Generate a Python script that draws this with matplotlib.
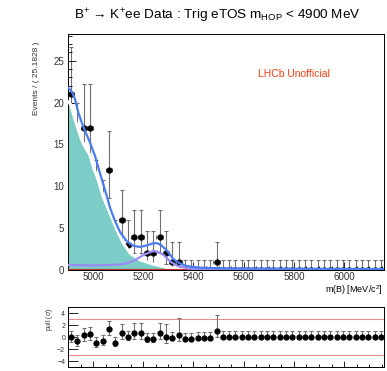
import numpy as np
import matplotlib.pyplot as plt
from matplotlib.ticker import MultipleLocator

plt.rcParams["font.family"] = ["Liberation Sans", "DejaVu Sans"]
plt.rcParams["mathtext.fontset"] = "custom"
plt.rcParams["mathtext.rm"] = "Liberation Sans"
plt.rcParams["mathtext.it"] = "Liberation Sans:italic"

# binning of the data histogram
m_lo = 4900.0
bin_w = 25.1828
n_bins = 50

# data counts per bin
counts = [21, 15, 17, 17, 9, 7, 12, 3, 6, 3,
          4, 4, 2, 2, 4, 2, 1, 1, 0, 0,
          0, 0, 0, 1, 0, 0, 0, 0, 0, 0,
          0, 0, 0, 0, 0, 0, 0, 0, 0, 0,
          0, 0, 0, 0, 0, 0, 0, 0, 0, 0]

# pull values read from the lower pad
pulls = [0.0, -0.7, 0.3, 0.5, -1.0, -0.6, 1.3, -1.0, 0.7, 0.0,
         0.65, 0.7, -0.3, -0.35, 0.65, 0.1, -0.15, 0.4, -0.3, -0.25,
         -0.15, -0.1, -0.1, 1.0, -0.05, -0.05, -0.05, -0.05, -0.05, -0.05,
         -0.05, -0.05, -0.05, -0.05, -0.05, -0.05, -0.05, -0.05, -0.05, -0.05,
         -0.05, -0.05, -0.05, -0.05, -0.05, -0.05, -0.05, -0.05, -0.05, -0.05]

# Poisson (Garwood) 68% intervals for the counts that occur
poisson_err = {0: (0.0, 1.148), 1: (0.827, 2.299), 2: (1.292, 2.638),
               3: (1.633, 2.918), 4: (1.914, 3.162), 6: (2.377, 3.583),
               7: (2.582, 3.770), 9: (2.957, 4.110), 12: (3.415, 4.559),
               15: (3.829, 4.958), 17: (4.082, 5.203), 21: (4.545, 5.655)}

# fit components
bkg_m = [4900, 4910, 4921, 4935, 4955, 4968, 4988, 5001, 5021, 5041,
         5068, 5095, 5121, 5148, 5188, 5241, 5295, 5348, 5400, 5450, 6160]
bkg_v = [20.1, 19.8, 18.7, 17.3, 15.5, 14.7, 13.7, 12.3, 10.7, 8.7,
         6.75, 4.8, 3.2, 2.0, 1.2, 0.7, 0.3, 0.08, 0.02, 0.0, 0.0]

sig_m = [4900, 5000, 5068, 5110, 5135, 5168, 5201, 5228, 5242, 5255,
         5281, 5308, 5335, 5375, 5428, 5500, 6160]
sig_v = [0.6, 0.55, 0.6, 0.68, 0.8, 1.2, 1.8, 2.15, 2.25, 2.2,
         1.8, 1.0, 0.5, 0.2, 0.05, 0.0, 0.0]

tot_m = [4900, 4915, 4928, 4941, 4955, 4968, 4988, 5008, 5028, 5048,
         5068, 5088, 5108, 5135, 5160, 5185, 5215, 5240, 5255, 5270,
         5295, 5320, 5345, 5370, 5400, 5430, 5480, 5535, 5700, 5900, 6160]
tot_v = [21.8, 21.3, 20.4, 18.8, 17.6, 16.6, 15.2, 13.6, 11.5, 9.5,
         7.4, 5.8, 4.5, 3.4, 2.9, 2.75, 2.95, 3.2, 3.2, 3.0,
         2.3, 1.3, 0.8, 0.5, 0.35, 0.28, 0.22, 0.2, 0.17, 0.14, 0.12]

centers = m_lo + bin_w * (np.arange(n_bins) + 0.5)
m_hi = m_lo + bin_w * n_bins
err_lo = np.array([poisson_err[c][0] for c in counts])
err_hi = np.array([poisson_err[c][1] for c in counts])

# pull error bars as RooFit builds them
p_lo, p_hi = [], []
for p, lo, hi in zip(pulls, err_lo, err_hi):
    norm = lo if p > 0 else hi
    p_lo.append(lo / norm)
    p_hi.append(hi / norm)

W, H = 387, 371
fig = plt.figure(figsize=(W / 100, H / 100), dpi=100)
ax = fig.add_axes([68 / W, 1 - 270 / H, 316 / W, 236.5 / H])
axp = fig.add_axes([68 / W, 1 - 367 / H, 316 / W, 59.7 / H])

tick_col = "#333333"

# main pad
ax.errorbar(centers, counts, yerr=[err_lo, err_hi], xerr=bin_w / 2, fmt="o",
            ms=3.5, mfc="black", mec="black", ecolor="#707070",
            elinewidth=0.8, capsize=1.3, capthick=0.8, zorder=1)
ax.fill_between(bkg_m, 0, bkg_v, color="#7ccdc8", lw=0, zorder=2)
ax.plot(bkg_m, bkg_v, color="white", lw=2.2, zorder=3)
ax.axhline(0, color="#c0392b", lw=1.6, zorder=3)
ax.plot(sig_m, sig_v, color="#9b8cf5", lw=1.6, zorder=4)
ax.plot(tot_m, tot_v, color="#4a7df0", lw=1.6, zorder=5)

ax.set_xlim(m_lo, m_hi)
ax.set_ylim(0, 28.25)
ax.xaxis.set_major_locator(MultipleLocator(200))
ax.xaxis.set_minor_locator(MultipleLocator(50))
ax.yaxis.set_major_locator(MultipleLocator(5))
ax.yaxis.set_minor_locator(MultipleLocator(1))
ax.tick_params(which="both", direction="in", top=False, right=False,
               labelsize=7, colors="black", labelcolor=tick_col, width=0.6)
ax.tick_params(which="major", length=5.5, pad=3)
ax.tick_params(axis="x", which="major", pad=1.5)
ax.tick_params(which="minor", length=2.8)
for s in ax.spines.values():
    s.set_linewidth(0.7)

ax.text(0.6, 0.83, "LHCb Unofficial", transform=ax.transAxes, color="#f03c14",
        fontsize=7.5, ha="left", va="center")

# pull pad
axp.errorbar(centers, pulls, yerr=[p_lo, p_hi], fmt="o", ms=3.5, mfc="black",
             mec="black", ecolor="#707070", elinewidth=0.8, capsize=1.3,
             capthick=0.8, zorder=3)
axp.axhline(3, color="#e88a8a", lw=0.8, zorder=1)
axp.axhline(-3, color="#e88a8a", lw=0.8, zorder=1)
axp.set_xlim(m_lo, m_hi)
axp.set_ylim(-5, 5)
axp.xaxis.set_major_locator(MultipleLocator(200))
axp.xaxis.set_minor_locator(MultipleLocator(50))
axp.set_yticks([-4, -2, 0, 2, 4])
axp.tick_params(which="both", direction="in", top=False, right=False,
                labelbottom=False, labelsize=5, labelcolor=tick_col, width=0.6)
axp.tick_params(axis="y", which="major", length=7, pad=2)
axp.tick_params(axis="x", which="major", length=4)
axp.tick_params(axis="x", which="minor", length=2)
for s in axp.spines.values():
    s.set_linewidth(0.7)

# texts
fig.text(217 / W, 1 - 16 / H,
         "B$^{+}$ \u2192 K$^{+}$ee Data : Trig eTOS m$_{\\mathrm{HOP}}$ < 4900 MeV",
         ha="center", va="center", fontsize=9.7)
fig.text(37 / W, 1 - 42 / H, "Events / ( 25.1828 )", rotation=90,
         ha="center", va="top", fontsize=6, color=tick_col)
fig.text(383 / W, 1 - 290 / H, r"m(B) [MeV/c$^{2}$]", ha="right",
         va="center", fontsize=6.5)
fig.text(50 / W, 1 - 308 / H, r"pull ($\sigma$)", rotation=90,
         ha="center", va="top", fontsize=5, color=tick_col)

fig.savefig("out.png", dpi=100)
